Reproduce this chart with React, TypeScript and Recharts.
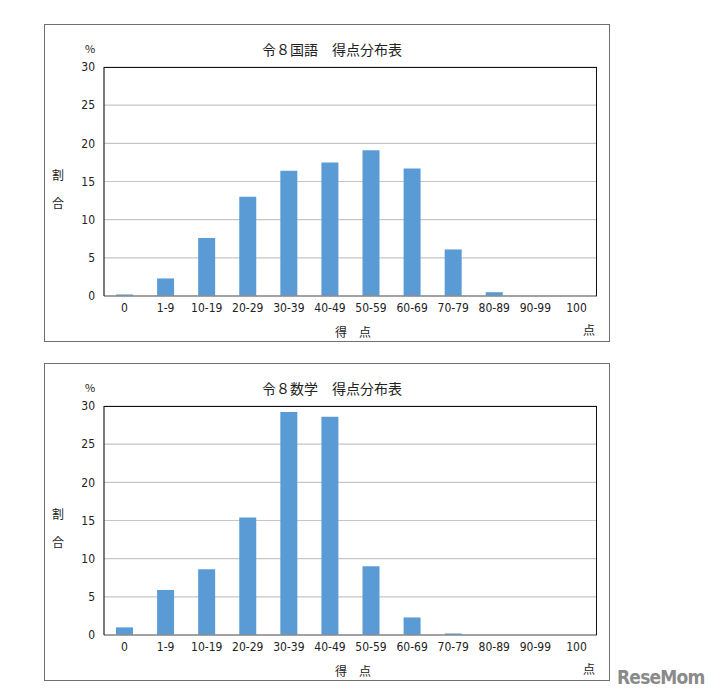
import { BarChart, Bar, XAxis, YAxis, CartesianGrid } from 'recharts'

const categories = ['0', '1-9', '10-19', '20-29', '30-39', '40-49', '50-59', '60-69', '70-79', '80-89', '90-99', '100']
const japaneseValues = [0.2, 2.3, 7.6, 13.0, 16.4, 17.5, 19.1, 16.7, 6.1, 0.5, 0, 0]
const mathValues = [1.0, 5.9, 8.6, 15.4, 29.2, 28.6, 9.0, 2.3, 0.2, 0, 0, 0]
const yTicks = [0, 5, 10, 15, 20, 25, 30]

const tickFont = '"Liberation Sans Narrow", "DejaVu Sans Condensed", "Noto Sans", sans-serif'
const jpFont = '"Noto Sans CJK JP", "Noto Sans", sans-serif'

interface ScoreChartProps {
  title: string
  values: number[]
  top: number
}

// label positions are page coords; the box content starts at (45, 25) on the page
function ScoreChart({ title, values, top }: ScoreChartProps) {
  const data = categories.map((c, i) => ({ name: c, value: values[i] }))
  const label = (left: number, y: number, text: string, size = 12) => (
    <div
      style={{
        position: 'absolute',
        left: left - 45,
        top: y - 25,
        transform: 'translate(-50%, -50%)',
        fontSize: size,
        fontFamily: jpFont,
        color: '#222',
        whiteSpace: 'pre',
        lineHeight: 1,
      }}
    >
      {text}
    </div>
  )

  return (
    <div
      style={{
        position: 'absolute',
        left: 36,
        top,
        width: 566,
        height: 318,
        border: '1px solid #6f6f6f',
        boxSizing: 'border-box',
        background: '#fff',
      }}
    >
      <BarChart
        width={564}
        height={316}
        data={data}
        margin={{ top: 42, right: 12, bottom: 0, left: 0 }}
        barSize={17}
      >
        <CartesianGrid vertical={false} stroke="#c6c6c6" strokeWidth={1.2} />
        <XAxis
          dataKey="name"
          height={45}
          axisLine={{ stroke: '#8c8c8c', strokeWidth: 1.5 }}
          tickLine={false}
          tickSize={0}
          tickMargin={7}
          interval={0}
          tick={{ fontSize: 12, fill: '#222', fontFamily: tickFont }}
        />
        <YAxis
          width={59}
          domain={[0, 30]}
          ticks={yTicks}
          axisLine={{ stroke: '#222', strokeWidth: 1.2 }}
          tickLine={false}
          tickSize={0}
          tickMargin={9}
          tick={{ fontSize: 12, fill: '#222', fontFamily: tickFont }}
        />
        <Bar dataKey="value" fill="#5b9bd5" isAnimationActive={false} />
      </BarChart>
      {/* plot frame: top and right edges */}
      <div
        style={{
          position: 'absolute',
          left: 59,
          top: 42,
          width: 493,
          height: 229,
          borderTop: '1px solid #111',
          borderRight: '1px solid #111',
          boxSizing: 'border-box',
          pointerEvents: 'none',
        }}
      />
      {label(332, 49, title, 14)}
      {label(90, 48, '%', 11)}
      {label(58, 175, '割')}
      {label(58, 203, '合')}
      {label(353, 332, '得　点')}
      {label(589, 330, '点')}
    </div>
  )
}

export default function App() {
  return (
    <div style={{ position: 'relative', width: 710, height: 684, background: '#fff' }}>
      <ScoreChart title="令８国語　得点分布表" values={japaneseValues} top={16} />
      <ScoreChart title="令８数学　得点分布表" values={mathValues} top={355} />
      <div
        style={{
          position: 'absolute',
          left: 609,
          top: 660,
          fontSize: 19,
          fontWeight: 700,
          fontFamily: '"DejaVu Sans Condensed", "Liberation Sans", sans-serif',
          color: '#8a8a8a',
          letterSpacing: -0.8,
          lineHeight: 1,
        }}
      >
        ReseMom
      </div>
    </div>
  )
}
